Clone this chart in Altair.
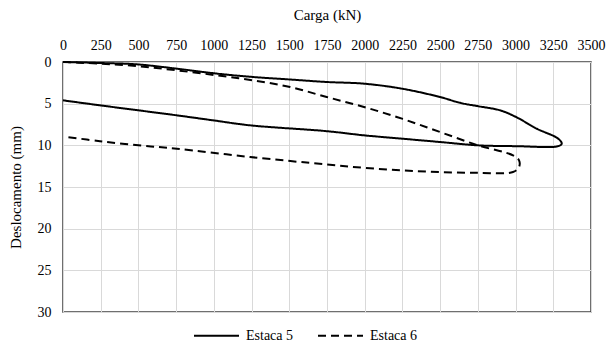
import altair as alt
import pandas as pd

# Estaca 5 (solid): loading then unloading
e5_carga = [0, 245, 489, 754, 1019, 1260, 1505, 1748, 1995, 2247, 2499, 2632, 2751, 2897, 3003, 3140, 3283, 3306,
            3283, 3003, 2751, 2499, 2247, 1995, 1748, 1240, 995, 754, 500, 245, 0]
e5_desl = [0, 0.12, 0.28, 0.8, 1.39, 1.8, 2.1, 2.4, 2.6, 3.2, 4.2, 4.9, 5.3, 5.8, 6.6, 8.0, 9.2, 9.8,
           10.1, 10.1, 10.0, 9.6, 9.2, 8.8, 8.3, 7.6, 7.0, 6.4, 5.8, 5.2, 4.6]

# Estaca 6 (dashed)
e6_carga = [0, 245, 500, 754, 1019, 1260, 1505, 1748, 1995, 2247, 2499, 2751, 2983, 3023,
            3023, 2983, 2751, 2499, 2247, 1995, 1748, 1240, 754, 500, 245, 25]
e6_desl = [0, 0.2, 0.5, 1.0, 1.6, 2.2, 3.0, 4.2, 5.4, 6.8, 8.4, 10.0, 11.2, 11.8,
           12.6, 13.2, 13.3, 13.2, 13.0, 12.7, 12.3, 11.4, 10.4, 10.0, 9.5, 9.0]

rows = []
for i, (c, d) in enumerate(zip(e5_carga, e5_desl)):
    rows.append({"serie": "Estaca 5", "carga": c, "desl": d, "ordem": i})
for i, (c, d) in enumerate(zip(e6_carga, e6_desl)):
    rows.append({"serie": "Estaca 6", "carga": c, "desl": d, "ordem": i})
df = pd.DataFrame(rows)

FONT = "Liberation Serif"

chart = alt.Chart(df).mark_line(color="black", strokeWidth=2, interpolate="catmull-rom").encode(
    x=alt.X("carga:Q", scale=alt.Scale(domain=[0, 3500], nice=False),
            axis=alt.Axis(orient="top", title="Carga (kN)", values=list(range(0, 3501, 250)),
                          format="d", ticks=False, domain=False, labelPadding=10, titlePadding=16,
                          labelFlush=False, labelFont=FONT, titleFont=FONT)),
    y=alt.Y("desl:Q", scale=alt.Scale(domain=[0, 30], reverse=True, nice=False),
            axis=alt.Axis(title="Deslocamento (mm)", values=[0, 5, 10, 15, 20, 25, 30],
                          ticks=False, domain=False, labelPadding=12, titlePadding=14,
                          labelFont=FONT, titleFont=FONT)),
    strokeDash=alt.StrokeDash("serie:N",
                              scale=alt.Scale(domain=["Estaca 5", "Estaca 6"], range=[[1, 0], [8, 5]]),
                              legend=alt.Legend(title=None, orient="none", direction="horizontal",
                                                legendX=130, legendY=250,
                                                symbolType="stroke", symbolSize=2025,
                                                symbolStrokeColor="black", symbolStrokeWidth=2,
                                                columnPadding=20, labelOffset=6, labelFont=FONT)),
    order="ordem:Q",
).properties(
    width=528, height=250,
    padding={"left": 63, "top": 62, "right": 16, "bottom": 40},
    autosize=alt.AutoSizeParams(type="none"),
).configure(
    font=FONT
).configure_view(
    stroke="#404040", strokeWidth=1.5
).configure_axis(
    labelFontSize=14, titleFontSize=15,
    labelColor="black", titleColor="black", titleFontWeight="normal",
    gridColor="#d9d9d9", gridWidth=1
).configure_legend(
    labelFontSize=14, labelColor="black"
)

chart.save("out.html", embed_options={"renderer": "svg", "actions": False})
